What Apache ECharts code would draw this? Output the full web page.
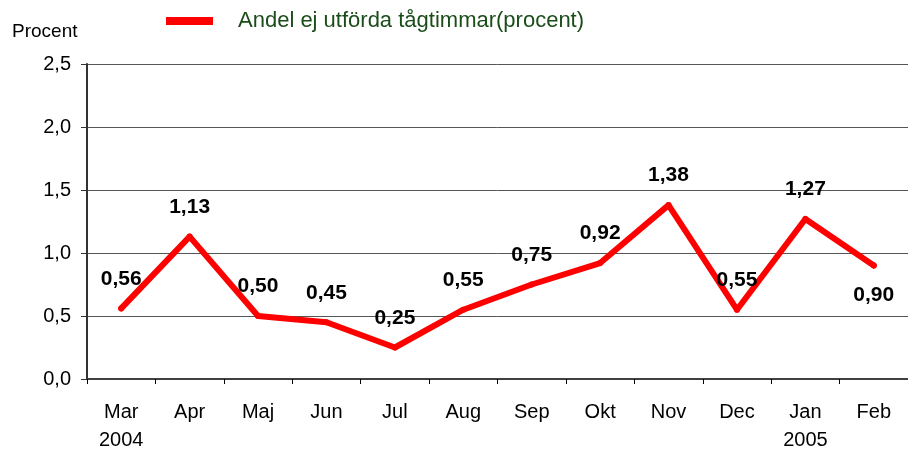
<!DOCTYPE html>
<html>
<head>
<meta charset="utf-8">
<script src="https://cdn.jsdelivr.net/npm/echarts@6/dist/echarts.min.js"></script>
<style>
  html, body { margin: 0; padding: 0; background: #fff; }
  #main { width: 908px; height: 454px; }
</style>
</head>
<body>
<div id="main"></div>
<script>
// data
var months = ["Mar\n2004", "Apr", "Maj", "Jun", "Jul", "Aug", "Sep", "Okt", "Nov", "Dec", "Jan\n2005", "Feb"];
var andel = [0.56, 1.13, 0.50, 0.45, 0.25, 0.55, 0.75, 0.92, 1.38, 0.55, 1.27, 0.90];
var seriesName = "Andel ej utförda tågtimmar(procent)";

var font = "Liberation Sans, Arial, sans-serif";
var comma = function (v, d) { return v.toFixed(d).replace(".", ","); };

var myChart = echarts.init(document.getElementById("main"));

var points = andel.map(function (v, i) {
  // last point has its label under the line
  if (i == andel.length - 1) {
    return { value: v, label: { position: "bottom" } };
  }
  return v;
});

var option = {
  animation: false,
  backgroundColor: "#fff",
  title: {
    text: "Procent",
    left: 7,
    top: 17,
    textStyle: { fontFamily: font, fontSize: 19, fontWeight: "normal", color: "#000" },
  },
  legend: {
    left: 161,
    top: 5,
    icon: "rect",
    itemWidth: 47,
    itemHeight: 8,
    itemGap: 0,
    textStyle: { fontFamily: font, fontSize: 22, color: "#1b4d1b", padding: [0, 0, 0, 20] },
    data: [seriesName],
  },
  grid: { left: 87, right: 0, top: 64, bottom: 75 },
  xAxis: {
    type: "category",
    data: months,
    boundaryGap: true,
    axisLine: { lineStyle: { color: "#404040", width: 2 } },
    axisTick: { show: true, length: 5, lineStyle: { color: "#000", width: 1 } },
    axisLabel: {
      fontFamily: font,
      fontSize: 20,
      color: "#000",
      lineHeight: 28,
      margin: 19,
      interval: 0,
    },
  },
  yAxis: {
    type: "value",
    min: 0,
    max: 2.5,
    interval: 0.5,
    axisLine: { show: true, lineStyle: { color: "#333", width: 2 } },
    axisTick: { show: true, length: 6, lineStyle: { color: "#333", width: 1 } },
    axisLabel: {
      fontFamily: font,
      fontSize: 20,
      color: "#000",
      margin: 16,
      formatter: function (v) { return comma(v, 1); },
    },
    splitLine: { lineStyle: { color: "#555", width: 1 } },
  },
  series: [
    {
      name: seriesName,
      type: "line",
      data: points,
      symbol: "circle",
      symbolSize: 6,
      itemStyle: { color: "#ff0000" },
      lineStyle: { color: "#ff0000", width: 6, join: "round", cap: "round" },
      label: {
        show: true,
        position: "top",
        distance: 16,
        fontFamily: font,
        fontSize: 21,
        fontWeight: "bold",
        color: "#000",
        formatter: function (p) { return comma(p.value, 2); },
      },
    },
  ],
};

myChart.setOption(option);
</script>
</body>
</html>
